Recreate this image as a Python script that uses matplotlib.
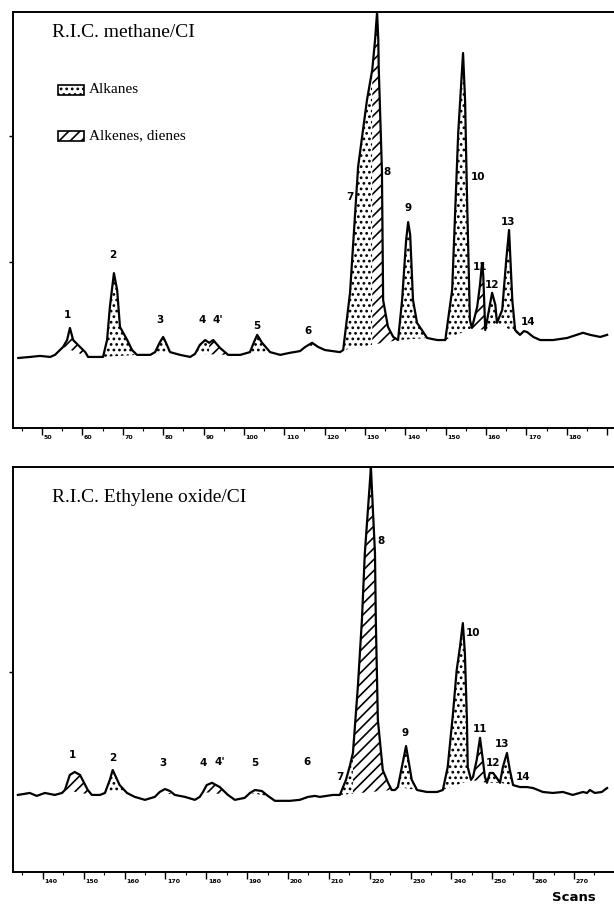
import numpy as np
import matplotlib
matplotlib.use("Agg")
import matplotlib.pyplot as plt
from matplotlib.patches import Rectangle

# Methane/CI trace (scan number, relative intensity)
ch4_scan = [44.1, 47.0, 49.5, 52.0, 53.2, 55.2, 56.2, 56.9, 57.7, 59.4, 60.7, 61.4,
            63.1, 65.1, 66.1, 66.8, 67.8, 68.6, 69.3, 71.1, 72.3, 73.5, 76.8, 78.0,
            79.2, 80.0, 80.7, 81.7, 84.2, 86.7, 87.9, 89.1, 90.4, 91.4, 92.4, 94.1,
            96.1, 99.1, 101.5, 102.5, 103.3, 104.5, 106.5, 109.0, 111.4, 113.9, 115.2,
            116.9, 118.4, 120.1, 123.8, 124.6, 126.3, 128.3, 130.5, 131.8, 132.5,
            133.0, 133.3, 133.4, 134.2, 134.5, 135.7, 137.0, 138.2, 139.2, 140.2,
            140.7, 141.2, 141.9, 142.9, 145.4, 147.9, 149.9, 151.6, 153.1, 154.3,
            154.8, 155.3, 156.0, 156.5, 157.8, 158.5, 159.0, 159.3, 159.8, 160.5,
            161.5, 162.3, 162.7, 164.0, 165.0, 165.7, 166.5, 167.2, 168.4, 169.4,
            170.2, 171.7, 173.4, 176.6, 180.1, 184.0, 185.8, 188.3, 190.0]
ch4_int = [-0.3, 0.0, 0.3, 0.0, 0.6, 2.9, 4.9, 8.4, 4.9, 2.9, 1.4, 0.0,
           0.0, 0.0, 4.9, 14.5, 24.3, 19.4, 8.7, 4.9, 2.0, 0.6, 0.6, 1.4,
           4.3, 5.8, 4.1, 1.4, 0.6, 0.0, 0.9, 3.5, 4.9, 4.1, 4.9, 2.6,
           0.6, 0.6, 1.4, 4.3, 6.4, 4.1, 1.4, 0.6, 1.2, 1.7, 2.9,
           4.1, 2.9, 2.0, 1.4, 2.0, 18.6, 55.1, 74.5, 83.2, 91.9,
           100.0, 91.9, 84.1, 54.2, 16.5, 8.7, 5.8, 4.9, 16.5, 33.9,
           39.1, 35.4, 16.5, 9.9, 5.5, 4.9, 4.9, 19.4, 64.9, 88.1,
           74.5, 45.5, 10.7, 8.4, 14.5, 20.9, 27.2, 23.8, 7.8, 12.2,
           18.6, 15.1, 9.9, 13.6, 28.1, 36.8, 16.5, 7.8, 6.4, 7.5,
           7.2, 5.8, 4.9, 4.9, 5.5, 7.0, 6.4, 5.8, 6.4]

# Ethylene oxide/CI trace
eo_scan = [133.9, 136.8, 138.5, 140.5, 142.9, 144.7, 145.4, 146.6, 147.8, 149.1, 151.0,
           152.0, 154.0, 155.2, 156.4, 157.1, 158.8, 160.6, 162.5, 165.0, 167.4, 168.6,
           169.9, 171.1, 172.3, 174.8, 177.2, 178.4, 179.2, 180.1, 181.4, 183.3, 185.3,
           187.0, 189.4, 190.7, 191.9, 193.6, 195.1, 196.8, 200.5, 202.9, 204.9, 206.6,
           207.8, 211.0, 212.7, 214.2, 215.2, 215.9, 217.1, 218.1, 218.8, 220.0, 220.3,
           220.5, 221.3, 221.5, 222.0, 223.2, 224.5, 225.4, 226.2, 226.9, 228.9, 230.3,
           231.6, 234.0, 236.5, 237.9, 239.1, 240.4, 241.3, 242.1, 242.8, 243.3, 243.8,
           244.0, 244.8, 245.3, 246.2, 247.0, 247.7, 248.2, 248.7, 249.4, 250.2, 251.1,
           251.9, 252.6, 253.6, 254.3, 255.1, 256.8, 258.5, 260.0, 262.4, 264.8, 267.3,
           269.7, 272.2, 273.2, 273.9, 275.1, 276.8, 278.1]
eo_int = [0.0, 0.6, -0.3, 0.6, 0.0, 0.6, 1.5, 6.1, 7.0, 6.1, 1.5,
          0.0, 0.0, 0.6, 4.6, 7.6, 3.0, 0.6, -0.6, -1.5, -0.6, 0.9,
          1.8, 1.2, 0.0, -0.6, -1.5, -0.6, 0.9, 3.0, 3.7, 2.4, 0.0,
          -1.5, -0.9, 0.6, 1.5, 1.2, -0.3, -1.8, -1.8, -1.5, -0.6, -0.3,
          -0.6, 0.0, 0.0, 4.6, 9.1, 12.8, 32.9, 53.4, 73.5, 94.5, 100.0,
          94.5, 73.5, 53.4, 22.9, 7.6, 3.7, 1.5, 1.5, 2.4, 14.9, 4.6,
          1.5, 0.9, 0.9, 1.5, 8.5, 25.0, 38.1, 45.1, 52.4, 43.3, 22.9,
          8.5, 4.6, 5.5, 10.7, 17.4, 10.7, 5.5, 3.7, 6.7, 6.7, 5.2,
          3.7, 8.5, 12.8, 7.6, 3.0, 2.4, 2.4, 2.1, 0.9, 0.6, 0.9,
          0.0, 0.9, 0.6, 1.5, 0.6, 0.9, 2.1]

# shaded peak areas: (from, to, left foot, right foot, compound class)
ch4_areas = [(55.2, 61.4, 55.2, 61.4, "alkene"),
             (65.1, 73.5, 65.1, 73.5, "alkane"),
             (78.0, 81.7, 78.0, 81.7, "alkane"),
             (87.9, 91.4, 87.9, 96.1, "alkane"),
             (91.4, 96.1, 87.9, 96.1, "alkene"),
             (101.5, 106.5, 101.5, 106.5, "alkane"),
             (115.2, 118.4, 115.2, 118.4, "alkane"),
             (124.6, 131.8, 124.6, 138.2, "alkane"),
             (131.8, 138.2, 124.6, 138.2, "alkene"),
             (138.2, 145.4, 138.2, 145.4, "alkane"),
             (149.9, 156.5, 149.9, 156.5, "alkane"),
             (156.5, 159.8, 156.5, 159.8, "alkene"),
             (159.8, 162.7, 159.8, 162.7, "alkane"),
             (162.7, 168.4, 162.7, 168.4, "alkane")]
eo_areas = [(145.4, 152.0, 145.4, 152.0, "alkene"),
            (155.2, 160.6, 155.2, 160.6, "alkane"),
            (168.6, 172.3, 168.6, 172.3, "alkane"),
            (179.2, 185.3, 179.2, 185.3, "alkene"),
            (190.7, 195.1, 190.7, 195.1, "alkane"),
            (204.9, 207.8, 204.9, 207.8, "alkane"),
            (212.7, 215.9, 212.7, 225.4, "alkane"),
            (215.9, 225.4, 212.7, 225.4, "alkene"),
            (226.9, 231.6, 226.9, 231.6, "alkane"),
            (237.9, 244.8, 237.9, 244.8, "alkane"),
            (244.8, 248.7, 244.8, 248.7, "alkene"),
            (248.7, 251.9, 248.7, 251.9, "alkane"),
            (251.9, 255.1, 251.9, 255.1, "alkane")]

# peak numbers and where they are written
peak_names = ["1", "2", "3", "4", "4'", "5", "6", "7", "8", "9", "10", "11", "12", "13", "14"]
ch4_label_x = [56.2, 67.6, 79.2, 89.6, 93.6, 103.3, 115.9, 126.3, 135.5, 140.7, 158.0, 158.5, 161.5, 165.5, 170.4]
ch4_label_y = [12.2, 29.6, 10.7, 10.7, 10.7, 9.0, 7.5, 46.4, 53.6, 43.2, 52.2, 26.1, 20.9, 39.1, 10.1]
eo_label_x = [147.3, 157.1, 169.4, 179.2, 183.3, 191.9, 204.6, 212.7, 222.7, 228.6, 245.3, 247.0, 250.2, 252.4, 257.5]
eo_label_y = [12.2, 11.3, 9.8, 9.8, 10.1, 9.8, 10.1, 5.5, 77.4, 18.9, 49.4, 20.1, 9.8, 15.5, 5.5]

ch4_ticks = list(range(50, 200, 10))
eo_ticks = list(range(140, 280, 10))
ch4_yticks = [27.5, 64.0]
eo_yticks = [37.5]

HATCH = {"alkane": "...", "alkene": "///"}

plt.rcParams["hatch.linewidth"] = 1.2
SERIF = ["Liberation Serif", "DejaVu Serif"]


def shade(ax, xs, ys, area):
    a, b, f0, f1, kind = area
    xs = np.asarray(xs)
    ys = np.asarray(ys)
    m = (xs >= a - 1e-6) & (xs <= b + 1e-6)
    xseg = xs[m]
    yseg = ys[m]
    foot = np.interp(xseg, [f0, f1], [np.interp(f0, xs, ys), np.interp(f1, xs, ys)])
    ax.fill_between(xseg, foot, yseg, facecolor="white", edgecolor="black",
                    hatch=HATCH[kind], linewidth=0)


def panel(ax, xs, ys, areas, lab_x, lab_y, ticks, yticks, xlim, ylim, title, title_y):
    for area in areas:
        shade(ax, xs, ys, area)
    ax.plot(xs, ys, color="black", lw=1.6, solid_joinstyle="round")
    for name, lx, ly in zip(peak_names, lab_x, lab_y):
        ax.text(lx, ly, name, ha="center", va="center", fontsize=7.5,
                fontweight="bold", family="DejaVu Sans")
    ax.set_xlim(*xlim)
    ax.set_ylim(*ylim)
    ax.set_xticks(ticks)
    ax.set_xticklabels([])
    for t in ticks:
        if t < xlim[1] - 4:
            ax.annotate(str(t), (t, 0), xycoords=("data", "axes fraction"),
                        xytext=(1.2, -5), textcoords="offset points",
                        ha="left", va="top", fontsize=4.5, fontweight="bold")
    ax.set_xticks(np.arange(ticks[0] - 5, xlim[1], 5), minor=True)
    ax.tick_params(axis="x", which="major", direction="out", length=5, width=1.0)
    ax.tick_params(axis="x", which="minor", direction="out", length=2, width=0.8)
    ax.set_yticks(yticks)
    ax.set_yticklabels([])
    ax.tick_params(axis="y", direction="out", length=3, width=1.0)
    for s in ("left", "top", "bottom"):
        ax.spines[s].set_linewidth(1.4)
    ax.spines["right"].set_visible(False)
    ax.text(0.065, title_y, title, transform=ax.transAxes, ha="left", va="center",
            fontsize=14, family=SERIF)


fig = plt.figure(figsize=(6.14, 9.07), dpi=100)
ax1 = fig.add_axes([0.0212, 0.5281, 0.9788, 0.4587])
ax2 = fig.add_axes([0.0212, 0.0386, 0.9788, 0.4465])

panel(ax1, ch4_scan, ch4_int, ch4_areas, ch4_label_x, ch4_label_y,
      ch4_ticks, ch4_yticks, (42.8, 191.7), (-20.6, 100), "R.I.C. methane/CI", 0.95)
panel(ax2, eo_scan, eo_int, eo_areas, eo_label_x, eo_label_y,
      eo_ticks, eo_yticks, (132.7, 279.8), (-23.5, 100), "R.I.C. Ethylene oxide/CI", 0.925)

# key for the shading
for yk, kind, text in [(0.8125, "alkane", "Alkanes"), (0.702, "alkene", "Alkenes, dienes")]:
    ax1.add_patch(Rectangle((0.075, yk - 0.012), 0.043, 0.024, transform=ax1.transAxes,
                            facecolor="white", edgecolor="black", hatch=HATCH[kind], lw=1.2))
    ax1.text(0.126, yk, text, transform=ax1.transAxes, ha="left", va="center",
             fontsize=11, family=SERIF)

fig.text(0.935, 0.0105, "Scans", ha="center", va="center", fontsize=9.5, fontweight="bold")

fig.savefig("out.png", dpi=100)
